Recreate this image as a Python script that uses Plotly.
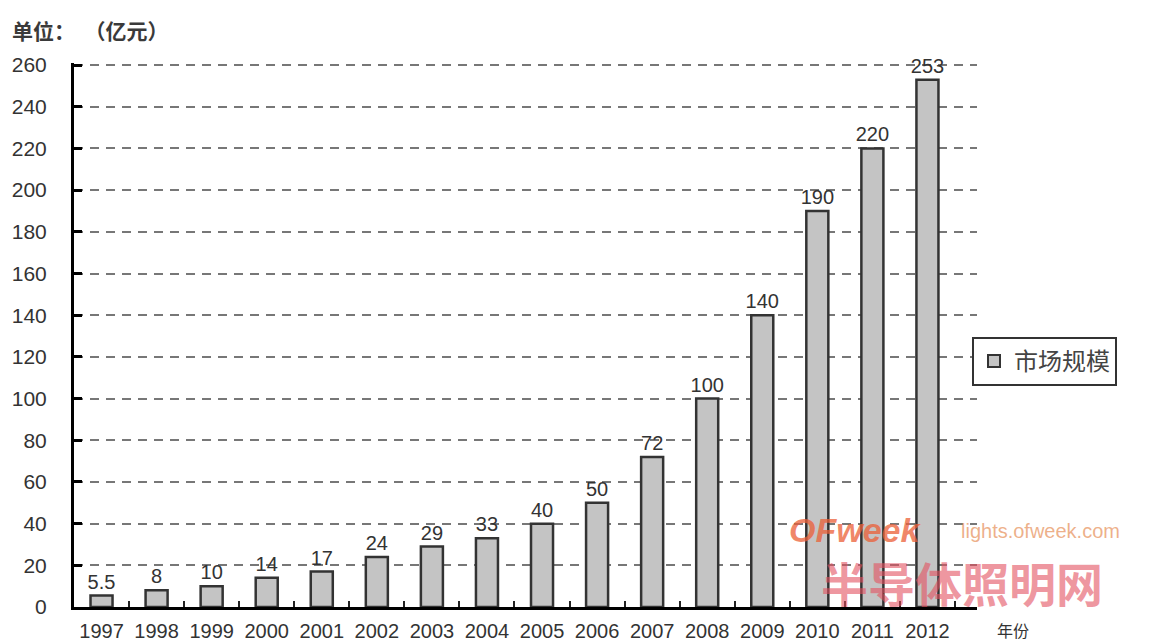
import plotly.graph_objects as go

years = ["1997", "1998", "1999", "2000", "2001", "2002", "2003", "2004",
         "2005", "2006", "2007", "2008", "2009", "2010", "2011", "2012"]
market = [5.5, 8, 10, 14, 17, 24, 29, 33, 40, 50, 72, 100, 140, 190, 220, 253]
labels = ["5.5", "8", "10", "14", "17", "24", "29", "33", "40", "50", "72",
          "100", "140", "190", "220", "253"]
series_name = "市场规模"
yticks = list(range(0, 261, 20))

L, R, T, B = 74, 977, 63, 607
W, H = R - L, B - T


def px(x):
    return (x - L) / W


def py(y):
    return (B - y) / H


fig = go.Figure()
fig.add_trace(go.Bar(
    x=years, y=market, name=series_name,
    text=labels, textposition="outside", cliponaxis=False,
    constraintext="none",
    textfont=dict(family="Liberation Sans, Arial", size=20, color="#333333"),
    marker=dict(color="#c4c4c4", line=dict(color="#333333", width=2.5)),
    width=0.4,
))

fig.update_layout(
    width=1152, height=644,
    margin=dict(l=L, r=1152 - R, t=T, b=644 - B, autoexpand=False),
    paper_bgcolor="white", plot_bgcolor="white",
    font=dict(family="Liberation Sans, Arial", color="#333333"),
    showlegend=True,
    legend=dict(
        x=px(972), y=py(337), xanchor="left", yanchor="top",
        bordercolor="#333333", borderwidth=2, bgcolor="white",
        font=dict(family="Noto Sans CJK SC", size=24, color="#444444"),
        itemsizing="constant",
    ),
    bargap=0.6,
)

fig.update_xaxes(
    type="category", range=[-0.5, 15.9], tickangle=0, automargin=False,
    showline=True, linecolor="black", linewidth=3,
    ticks="inside", tickson="boundaries", ticklen=6, tickwidth=2, tickcolor="#222222",
    tickfont=dict(family="Liberation Sans, Arial", size=20, color="#333333"),
    ticklabelstandoff=4,
    showgrid=False, zeroline=False,
)
fig.update_yaxes(
    range=[0, 261], tickvals=yticks, automargin=False,
    showline=True, linecolor="black", linewidth=3,
    ticks="inside", ticklen=8, tickwidth=3, tickcolor="black",
    tickfont=dict(family="Liberation Sans, Arial", size=21, color="#333333"),
    ticklabelstandoff=20,
    showgrid=True, gridcolor="#777777", gridwidth=2, griddash="9px,7px",
    zeroline=False,
)

annotations = [
    dict(text="<b>单位：  （亿元）</b>", x=px(10), y=py(30), xanchor="left", yanchor="middle",
         font=dict(family="Noto Sans CJK SC", size=21, color="#3a3a3a")),
    dict(text="年份", x=px(995), y=py(644), xanchor="left", yanchor="bottom",
         font=dict(family="Noto Sans CJK SC", size=16, color="#333333")),
    dict(text="<b><i>OFweek</i></b>", x=px(855), y=py(530), xanchor="center", yanchor="middle",
         font=dict(family="Liberation Sans, Arial", size=34, color="rgba(235,95,55,0.75)")),
    dict(text="lights.ofweek.com", x=px(1040), y=py(531), xanchor="center", yanchor="middle",
         font=dict(family="Liberation Sans, Arial", size=20, color="rgba(232,150,100,0.75)")),
    dict(text="<b>半导体照明网</b>", x=px(962), y=py(581), xanchor="center", yanchor="middle",
         font=dict(family="Noto Sans CJK SC", size=47, color="rgba(228,80,95,0.6)")),
]
for a in annotations:
    a.update(xref="paper", yref="paper", showarrow=False)
fig.update_layout(annotations=annotations)

fig.write_html("out.html")
